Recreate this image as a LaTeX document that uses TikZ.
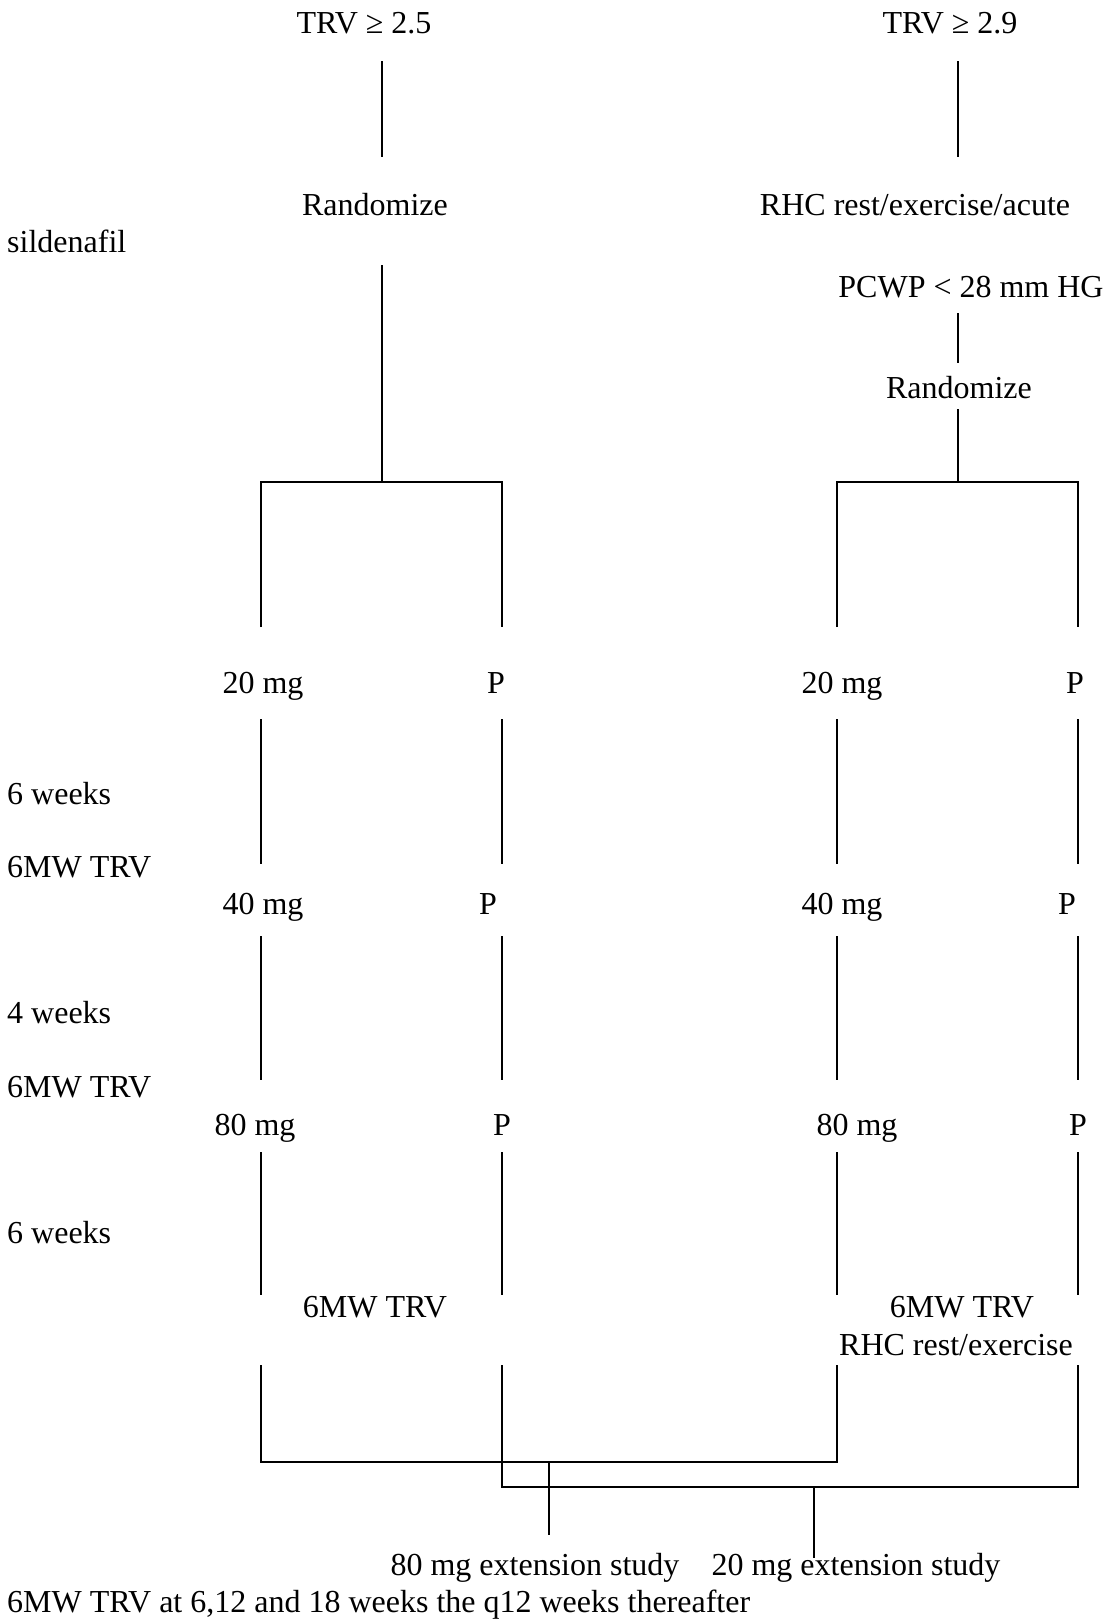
\documentclass[tikz,border=0pt]{standalone}
\usepackage{fontspec}
\setmainfont{Liberation Serif}
\begin{document}
\begin{tikzpicture}[x=1pt,y=-1pt,
  lbl/.style={inner sep=0pt,anchor=base,font=\fontsize{32}{36}\selectfont},
  lblw/.style={lbl,anchor=base west},
  ln/.style={line width=1.4pt,line cap=butt}]
\useasboundingbox (0,0) rectangle (1110,1623);
% texts
\node[lbl] (trv1) at (364,33) {TRV ≥ 2.5};
\node[lbl] (trv2) at (950,33) {TRV ≥ 2.9};
\node[lbl] (rand1) at (375,215) {Randomize};
\node[lbl] (rhc1) at (915,215) {RHC rest/exercise/acute};
\node[lblw] (sild) at (7,252) {sildenafil};
\node[lbl] (pcwp) at (971,297) {PCWP < 28 mm HG};
\node[lbl] (rand2) at (959,398) {Randomize};
\node[lbl] (a20) at (263,693) {20 mg};
\node[lbl] (b20) at (496,693) {P};
\node[lbl] (c20) at (842,693) {20 mg};
\node[lbl] (d20) at (1075,693) {P};
\node[lblw] (w6a) at (7,804) {6 weeks};
\node[lblw] (mw1) at (7,877) {6MW TRV};
\node[lbl] (a40) at (263,914) {40 mg};
\node[lbl] (b40) at (488,914) {P};
\node[lbl] (c40) at (842,914) {40 mg};
\node[lbl] (d40) at (1067,914) {P};
\node[lblw] (w4) at (7,1023) {4 weeks};
\node[lblw] (mw2) at (7,1097) {6MW TRV};
\node[lbl] (a80) at (255,1135) {80 mg};
\node[lbl] (b80) at (502,1135) {P};
\node[lbl] (c80) at (857,1135) {80 mg};
\node[lbl] (d80) at (1078,1135) {P};
\node[lblw] (w6b) at (7,1243) {6 weeks};
\node[lbl] (mwL) at (375,1317) {6MW TRV};
\node[lbl] (mwR) at (962,1317) {6MW TRV};
\node[lbl] (rhc2) at (956,1355) {RHC rest/exercise};
\node[lbl] (ext80) at (535,1575) {80 mg extension study};
\node[lbl] (ext20) at (856,1575) {20 mg extension study};
\node[lblw] (foot) at (7,1612) {6MW TRV at 6,12 and 18 weeks the q12 weeks thereafter};
% coordinates
\coordinate (lt1) at (382,61);  \coordinate (lt2) at (382,157);
\coordinate (rt1) at (958,61);  \coordinate (rt2) at (958,157);
\coordinate (ltr1) at (382,265); \coordinate (ltr2) at (382,482);
\coordinate (rs1) at (958,313); \coordinate (rs2) at (958,363);
\coordinate (rtr1) at (958,409); \coordinate (rtr2) at (958,482);
\draw[ln] (lt1) -- (lt2);
\draw[ln] (rt1) -- (rt2);
\draw[ln] (ltr1) -- (ltr2);
\draw[ln] (rs1) -- (rs2);
\draw[ln] (rtr1) -- (rtr2);
% top brackets
\coordinate (ba) at (261,627); \coordinate (bb) at (502,627);
\coordinate (bc) at (837,627); \coordinate (bd) at (1078,627);
\draw[ln] (ba) -- (261,482) -- (502,482) -- (bb);
\draw[ln] (bc) -- (837,482) -- (1078,482) -- (bd);
% column segments
\foreach \x/\n in {261/a,502/b,837/c,1078/d}{
  \coordinate (\n s1t) at (\x,719);  \coordinate (\n s1b) at (\x,864);
  \coordinate (\n s2t) at (\x,936);  \coordinate (\n s2b) at (\x,1080);
  \coordinate (\n s3t) at (\x,1152); \coordinate (\n s3b) at (\x,1295);
  \coordinate (\n s4t) at (\x,1365);
  \draw[ln] (\n s1t) -- (\n s1b);
  \draw[ln] (\n s2t) -- (\n s2b);
  \draw[ln] (\n s3t) -- (\n s3b);
}
% bottom brackets
\draw[ln] (as4t) -- (261,1462) -- (837,1462) -- (cs4t);
\draw[ln] (bs4t) -- (502,1487) -- (1078,1487) -- (ds4t);
\coordinate (st1t) at (549,1462); \coordinate (st1b) at (549,1535);
\coordinate (st2t) at (814,1487); \coordinate (st2b) at (814,1558);
\draw[ln] (st1t) -- (st1b);
\draw[ln] (st2t) -- (st2b);
\end{tikzpicture}
\end{document}
